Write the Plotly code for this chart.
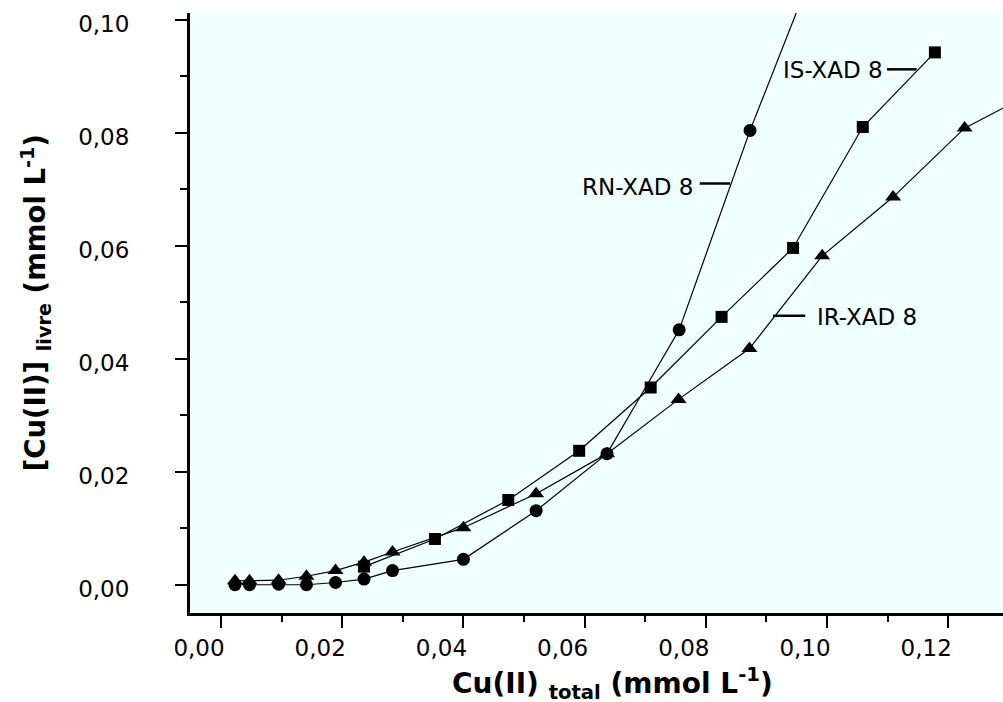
import plotly.graph_objects as go

# ---- data ----
x_rn = [0.0023, 0.0047, 0.0095, 0.0141, 0.0189, 0.0236, 0.0283, 0.0400, 0.0520, 0.0637, 0.0756, 0.0873, 0.0990]
y_rn = [0.0000, 0.0000, 0.0001, 0.0000, 0.0004, 0.0010, 0.0025, 0.0045, 0.0131, 0.0232, 0.0451, 0.0804, 0.1123]

x_is = [0.0236, 0.0353, 0.0474, 0.0591, 0.0709, 0.0826, 0.0944, 0.1059, 0.1178]
y_is = [0.0032, 0.0081, 0.0150, 0.0237, 0.0349, 0.0474, 0.0596, 0.0810, 0.0942]

x_ir = [0.0023, 0.0047, 0.0095, 0.0141, 0.0189, 0.0236, 0.0283, 0.0400, 0.0520, 0.0637,
        0.0755, 0.0872, 0.0992, 0.1109, 0.1227, 0.1345]
y_ir = [0.0007, 0.0007, 0.0008, 0.0015, 0.0025, 0.0040, 0.0058, 0.0101, 0.0161, 0.0232,
        0.0328, 0.0418, 0.0582, 0.0686, 0.0808, 0.0874]

series_names = ["RN-XAD 8", "IS-XAD 8", "IR-XAD 8"]

FONT = "DejaVu Sans, Liberation Sans, Arial, sans-serif"

fig = go.Figure()

line_style = dict(color="black", width=1.2)
fig.add_trace(go.Scatter(x=x_ir, y=y_ir, mode="lines+markers", name=series_names[2],
                         line=line_style,
                         marker=dict(symbol="triangle-up", size=14, color="black")))
fig.add_trace(go.Scatter(x=x_is, y=y_is, mode="lines+markers", name=series_names[1],
                         line=line_style,
                         marker=dict(symbol="square", size=12, color="black")))
fig.add_trace(go.Scatter(x=x_rn, y=y_rn, mode="lines+markers", name=series_names[0],
                         line=line_style,
                         marker=dict(symbol="circle", size=13, color="black")))

# series labels with leader lines
labels = [
    dict(text=series_names[1], x=0.1096, y=0.0910, xanchor="right", lx=(0.1099, 0.1148), ly=0.0912),
    dict(text=series_names[0], x=0.0783, y=0.0704, xanchor="right", lx=(0.0790, 0.0840), ly=0.0710),
    dict(text=series_names[2], x=0.0980, y=0.0473, xanchor="left", lx=(0.0911, 0.0964), ly=0.0476),
]
for lb in labels:
    fig.add_annotation(x=lb["x"], y=lb["y"], xref="x", yref="y", text=lb["text"],
                       showarrow=False, xanchor=lb["xanchor"], yanchor="middle",
                       font=dict(family=FONT, size=23, color="black"))
    fig.add_shape(type="line", xref="x", yref="y", x0=lb["lx"][0], x1=lb["lx"][1],
                  y0=lb["ly"], y1=lb["ly"], line=dict(color="black", width=2.5))

# axis titles
fig.add_annotation(xref="paper", yref="paper", x=0.52, y=-0.118,
                   text="<b>Cu(II) <sub>total</sub> (mmol L<sup>-1</sup>)</b>",
                   showarrow=False, xanchor="center", yanchor="middle",
                   font=dict(family=FONT, size=28, color="black"))
fig.add_annotation(xref="paper", yref="paper", x=-0.19, y=0.517,
                   text="<b>[Cu(II)] <sub>livre</sub> (mmol L<sup>-1</sup>)</b>",
                   showarrow=False, xanchor="center", yanchor="middle", textangle=-90,
                   font=dict(family=FONT, size=27.5, color="black"))

axis_common = dict(
    showline=True, linecolor="black", linewidth=3, mirror=False,
    showgrid=False, zeroline=False, automargin=False,
    ticks="outside", ticklen=12, tickwidth=2, tickcolor="black",
    tickformat=".2f",
    tickfont=dict(family=FONT, size=23, color="black"),
)

fig.update_xaxes(range=[-0.00512, 0.12904], tick0=0, dtick=0.02,
                 minor=dict(ticks="outside", ticklen=6, tickwidth=2, tickcolor="black", dtick=0.01, tick0=0),
                 ticklabelstandoff=0, ticklabelshift=-22, **axis_common)
fig.update_yaxes(range=[-0.0050, 0.10117], tick0=0, dtick=0.02,
                 minor=dict(ticks="outside", ticklen=7, tickwidth=2, tickcolor="black", dtick=0.01, tick0=0),
                 ticklabelstandoff=41, ticklabelshift=4, **axis_common)

fig.update_layout(
    width=1003, height=702,
    margin=dict(l=190, r=0, t=13, b=89, pad=0),
    paper_bgcolor="white", plot_bgcolor="#F0FFFF",
    showlegend=False,
    separators=", ",
    font=dict(family=FONT, color="black"),
)

fig.write_html("out.html", config={"displayModeBar": False},
               post_script="document.body.style.margin='0';document.body.style.overflow='hidden';")
